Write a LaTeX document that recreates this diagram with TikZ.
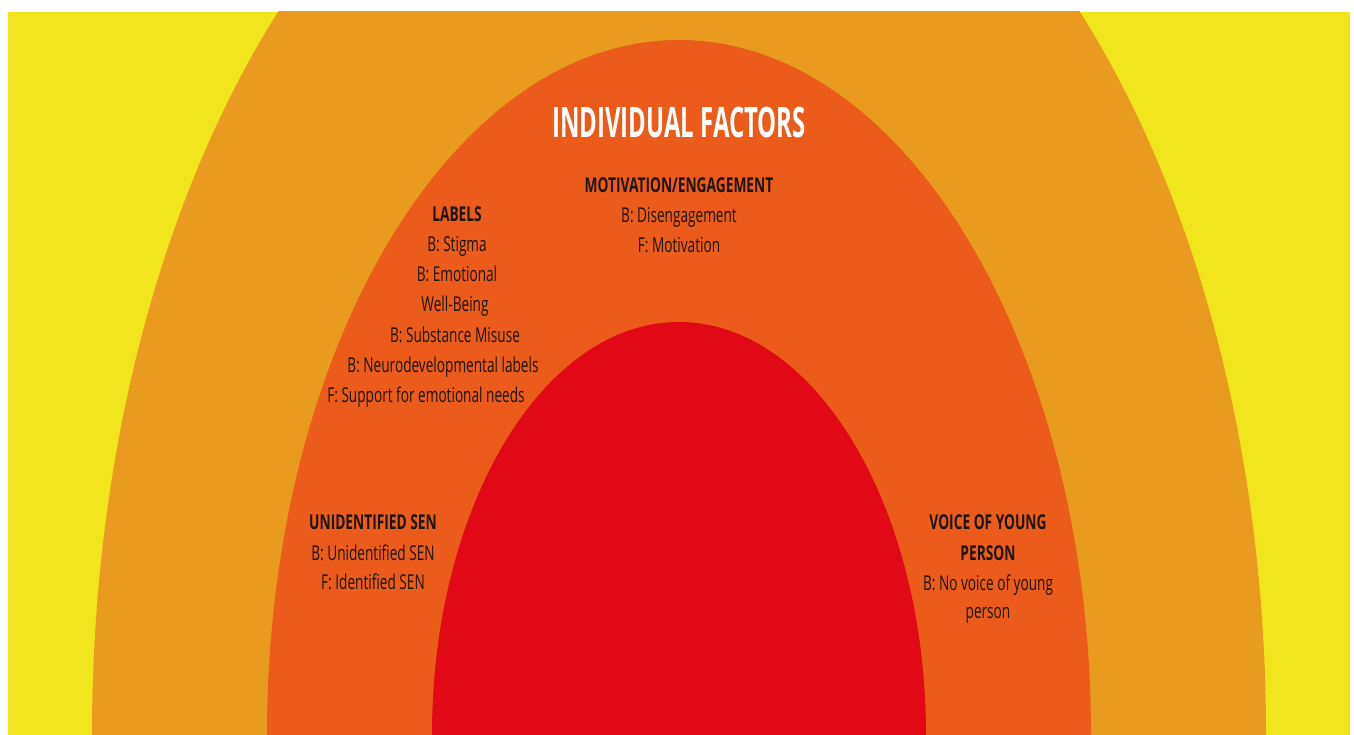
\documentclass[tikz,border=0pt]{standalone}
\usepackage{fontspec}
\setmainfont{Open Sans}
\newfontfamily\condfont[FakeStretch=0.665]{Open Sans}
\newfontfamily\condbold[FakeStretch=0.67]{Open Sans Bold}
\newfontfamily\titlefont[FakeStretch=0.57]{Open Sans Bold}
\definecolor{cyellow}{HTML}{F2E51E}
\definecolor{corange}{HTML}{E99B1F}
\definecolor{credorange}{HTML}{EB5C1A}
\definecolor{cred}{HTML}{E10915}
\definecolor{ctext}{HTML}{1E1410}
\begin{document}
\begin{tikzpicture}[x=1pt,y=-1pt,
  body/.style={inner sep=0pt, anchor=base, text=ctext, font=\condfont\fontsize{20.5}{24}\selectfont},
  head/.style={inner sep=0pt, anchor=base, text=ctext, font=\condbold\fontsize{20.5}{24}\selectfont},
  title/.style={inner sep=0pt, anchor=base, text=white, font=\titlefont\fontsize{42}{46}\selectfont}]
\useasboundingbox (0,0) rectangle (1354,735);
\fill[white] (0,0) rectangle (1354,735);
\begin{scope}
\clip (8,12) rectangle (1350,735);
\fill[cyellow] (8,12) rectangle (1350,735);
\fill[corange] (679,735) ellipse [x radius=587pt, y radius=990pt];
\fill[credorange] (679,735) ellipse [x radius=412pt, y radius=695pt];
\fill[cred] (679,735) ellipse [x radius=247pt, y radius=413pt];
\end{scope}
\node[title] (t) at (679,138) {INDIVIDUAL FACTORS};
% motivation
\node[head] (m1) at (679,193) {MOTIVATION/ENGAGEMENT};
\node[body] (m2) at (679,223) {B: Disengagement};
\node[body] (m3) at (679,253) {F: Motivation};
% labels
\node[head] (l1) at (457,222) {LABELS};
\node[body] (l2) at (457,252) {B: Stigma};
\node[body] (l3) at (457,282) {B: Emotional};
\node[body] (l4) at (455,312) {Well-Being};
\node[body] (l5) at (455,342) {B: Substance Misuse};
\node[body] (l6) at (443,372) {B: Neurodevelopmental labels};
\node[body] (l7) at (426,402) {F: Support for emotional needs};
% unidentified SEN
\node[head] (u1) at (373,529) {UNIDENTIFIED SEN};
\node[body] (u2) at (373,560) {B: Unidentified SEN};
\node[body] (u3) at (373,589) {F: Identified SEN};
% voice
\node[head] (v1) at (988,529) {VOICE OF YOUNG};
\node[head] (v2) at (988,560) {PERSON};
\node[body] (v3) at (988,590) {B: No voice of young};
\node[body] (v4) at (988,618) {person};
\end{tikzpicture}
\end{document}
